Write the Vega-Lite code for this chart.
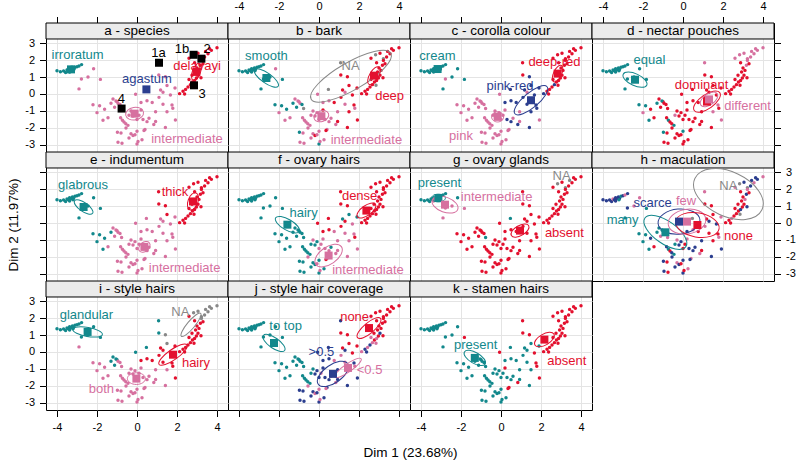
{
"$schema":"https://vega.github.io/schema/vega-lite/v6.json",
"padding":{"left":5,"top":0,"right":5,"bottom":5},
"background":"#ffffff",
"datasets":{
"strips":[{"panel":"a","title":"a - species"},{"panel":"b","title":"b - bark"},{"panel":"c","title":"c - corolla colour"},{"panel":"d","title":"d - nectar pouches"},{"panel":"e","title":"e - indumentum"},{"panel":"f","title":"f - ovary hairs"},{"panel":"g","title":"g - ovary glands"},{"panel":"h","title":"h - maculation"},{"panel":"i","title":"i - style hairs"},{"panel":"j","title":"j - style hair coverage"},{"panel":"k","title":"k - stamen hairs"}],
"cent":[
{"panel":"a","cat":"irroratum","cx":-3.3,"cy":1.45,"r":0.22,"ratio":"r70","angle":-20,"lx":-2.97,"ly":2.31},
{"panel":"a","cat":"intermediate","cx":-0.12,"cy":-1.16,"r":0.45,"ratio":"r70","angle":-10,"lx":2.5,"ly":-2.65},
{"panel":"a","cat":"delavayi","cx":2.97,"cy":1.3,"r":0.45,"ratio":"r45","angle":-70,"lx":3.0,"ly":1.66},
{"panel":"a","cat":"agastum","cx":0.47,"cy":0.27,"r":0,"ratio":"r70","angle":0,"lx":0.5,"ly":0.88},
{"panel":"a","cat":"1a","cx":1.1,"cy":1.84,"r":0,"ratio":"r70","angle":0,"lx":1.08,"ly":2.41},
{"panel":"a","cat":"1b","cx":2.83,"cy":2.31,"r":0,"ratio":"r70","angle":0,"lx":2.25,"ly":2.65},
{"panel":"a","cat":"2","cx":3.22,"cy":2.08,"r":0,"ratio":"r70","angle":0,"lx":3.5,"ly":2.65},
{"panel":"a","cat":"3","cx":2.85,"cy":0.51,"r":0,"ratio":"r70","angle":0,"lx":3.25,"ly":0.0},
{"panel":"a","cat":"4","cx":-0.77,"cy":-0.86,"r":0,"ratio":"r70","angle":0,"lx":-0.78,"ly":-0.3},
{"panel":"b","cat":"smooth","cx":-2.63,"cy":0.94,"r":0.72,"ratio":"r35","angle":35,"lx":-2.63,"ly":2.25},
{"panel":"b","cat":"NA","cx":1.6,"cy":1.05,"r":2.3,"ratio":"r30","angle":-30,"lx":1.58,"ly":1.63},
{"panel":"b","cat":"deep","cx":2.75,"cy":1.08,"r":0.5,"ratio":"r45","angle":-60,"lx":3.53,"ly":-0.14},
{"panel":"b","cat":"intermediate","cx":0.12,"cy":-1.31,"r":0.38,"ratio":"r70","angle":-20,"lx":2.37,"ly":-2.73},
{"panel":"c","cat":"cream","cx":-3.17,"cy":1.47,"r":0.2,"ratio":"r70","angle":0,"lx":-3.18,"ly":2.22},
{"panel":"c","cat":"deep-red","cx":2.83,"cy":1.2,"r":0.45,"ratio":"r45","angle":-65,"lx":2.67,"ly":1.86},
{"panel":"c","cat":"pink-red","cx":1.5,"cy":-0.37,"r":1.05,"ratio":"r35","angle":-40,"lx":0.45,"ly":0.45},
{"panel":"c","cat":"pink","cx":-0.17,"cy":-1.35,"r":0.3,"ratio":"r85","angle":0,"lx":-2.0,"ly":-2.45},
{"panel":"d","cat":"equal","cx":-2.4,"cy":0.84,"r":0.65,"ratio":"r45","angle":25,"lx":-1.68,"ly":2.02},
{"panel":"d","cat":"dominant","cx":1.2,"cy":-0.45,"r":0.78,"ratio":"r45","angle":-35,"lx":0.93,"ly":0.55},
{"panel":"d","cat":"different","cx":1.3,"cy":-0.32,"r":0.5,"ratio":"r55","angle":-35,"lx":3.23,"ly":-0.69},
{"panel":"e","cat":"glabrous","cx":-2.67,"cy":0.94,"r":0.55,"ratio":"r40","angle":35,"lx":-2.7,"ly":2.21},
{"panel":"e","cat":"thick","cx":2.8,"cy":1.27,"r":0.45,"ratio":"r55","angle":-70,"lx":1.9,"ly":1.8},
{"panel":"e","cat":"intermediate","cx":0.37,"cy":-1.41,"r":0.32,"ratio":"r70","angle":-40,"lx":2.38,"ly":-2.65},
{"panel":"f","cat":"hairy","cx":-1.58,"cy":-0.1,"r":0.68,"ratio":"r40","angle":30,"lx":-0.77,"ly":0.59},
{"panel":"f","cat":"dense","cx":2.37,"cy":0.73,"r":0.55,"ratio":"r45","angle":-35,"lx":2.03,"ly":1.57},
{"panel":"f","cat":"intermediate","cx":0.48,"cy":-1.92,"r":0.78,"ratio":"r55","angle":-35,"lx":2.45,"ly":-2.75},
{"panel":"g","cat":"present","cx":-3.13,"cy":1.47,"r":0.35,"ratio":"r55","angle":0,"lx":-3.08,"ly":2.35},
{"panel":"g","cat":"intermediate","cx":-2.8,"cy":1.08,"r":0.68,"ratio":"r55","angle":20,"lx":-0.22,"ly":1.53},
{"panel":"g","cat":"NA","cx":3.2,"cy":2.45,"r":0,"ratio":"r55","angle":0,"lx":3.03,"ly":2.78},
{"panel":"g","cat":"absent","cx":0.95,"cy":-0.45,"r":0.5,"ratio":"r50","angle":-30,"lx":3.17,"ly":-0.59},
{"panel":"h","cat":"many","cx":-0.88,"cy":-0.55,"r":1.25,"ratio":"r45","angle":35,"lx":-3.02,"ly":0.16},
{"panel":"h","cat":"scarce","cx":-0.2,"cy":0.08,"r":1.05,"ratio":"r60","angle":-5,"lx":-1.52,"ly":1.18},
{"panel":"h","cat":"few","cx":0.2,"cy":0.08,"r":0.95,"ratio":"r65","angle":-10,"lx":0.15,"ly":1.27},
{"panel":"h","cat":"none","cx":0.72,"cy":-0.12,"r":1.1,"ratio":"r55","angle":10,"lx":2.77,"ly":-0.75},
{"panel":"h","cat":"NA","cx":2.27,"cy":1.7,"r":1.85,"ratio":"r60","angle":25,"lx":2.27,"ly":2.2},
{"panel":"i","cat":"glandular","cx":-2.47,"cy":1.18,"r":0.75,"ratio":"r30","angle":10,"lx":-2.53,"ly":2.2},
{"panel":"i","cat":"NA","cx":2.7,"cy":1.6,"r":0.75,"ratio":"r25","angle":-50,"lx":2.17,"ly":2.35},
{"panel":"i","cat":"hairy","cx":1.8,"cy":-0.16,"r":0.85,"ratio":"r30","angle":-35,"lx":2.95,"ly":-0.65},
{"panel":"i","cat":"both","cx":-0.03,"cy":-1.57,"r":0.45,"ratio":"r65","angle":0,"lx":-1.78,"ly":-2.18},
{"panel":"j","cat":"to top","cx":-2.25,"cy":0.53,"r":0.65,"ratio":"r40","angle":35,"lx":-1.67,"ly":1.51},
{"panel":"j","cat":"none","cx":2.5,"cy":1.41,"r":0.75,"ratio":"r35","angle":-40,"lx":1.78,"ly":2.06},
{"panel":"j","cat":">0.5","cx":0.7,"cy":-1.29,"r":0.9,"ratio":"r50","angle":-35,"lx":0.12,"ly":-0.02},
{"panel":"j","cat":"<0.5","cx":1.45,"cy":-0.94,"r":0.8,"ratio":"r25","angle":-35,"lx":2.53,"ly":-1.04},
{"panel":"k","cat":"present","cx":-1.31,"cy":-0.35,"r":0.6,"ratio":"r45","angle":30,"lx":-1.27,"ly":0.43},
{"panel":"k","cat":"absent","cx":2.17,"cy":0.73,"r":0.55,"ratio":"r50","angle":-30,"lx":3.29,"ly":-0.51}
],
"pts":[
{"x":-4.0,"y":1.37,"a":"irroratum","b":"smooth","c":"cream","d":"equal","e":"glabrous","f":"hairy","g":"present","h":"scarce","i":"glandular","j":"to top","k":"present"},
{"x":-3.83,"y":1.31,"a":"irroratum","b":"smooth","c":"cream","d":"equal","e":"glabrous","f":"hairy","g":"present","h":"scarce","i":"glandular","j":"to top","k":"present"},
{"x":-3.67,"y":1.35,"a":"irroratum","b":"smooth","c":"cream","d":"equal","e":"glabrous","f":"hairy","g":"present","h":"scarce","i":"glandular","j":"to top","k":"present"},
{"x":-3.57,"y":1.27,"a":"irroratum","b":"smooth","c":"cream","d":"equal","e":"glabrous","f":"hairy","g":"present","h":"scarce","i":"glandular","j":"to top","k":"present"},
{"x":-3.5,"y":1.41,"a":"irroratum","b":"smooth","c":"cream","d":"equal","e":"glabrous","f":"hairy","g":"present","h":"few","i":"glandular","j":"to top","k":"present"},
{"x":-3.43,"y":1.37,"a":"irroratum","b":"smooth","c":"cream","d":"equal","e":"glabrous","f":"hairy","g":"present","h":"scarce","i":"glandular","j":"to top","k":"present"},
{"x":-3.37,"y":1.49,"a":"irroratum","b":"smooth","c":"cream","d":"equal","e":"glabrous","f":"hairy","g":"present","h":"scarce","i":"glandular","j":"to top","k":"present"},
{"x":-3.3,"y":1.43,"a":"irroratum","b":"smooth","c":"cream","d":"equal","e":"glabrous","f":"hairy","g":"intermediate","h":"scarce","i":"glandular","j":"to top","k":"present"},
{"x":-3.23,"y":1.53,"a":"irroratum","b":"smooth","c":"cream","d":"equal","e":"glabrous","f":"hairy","g":"present","h":"scarce","i":"glandular","j":"to top","k":"present"},
{"x":-3.17,"y":1.45,"a":"irroratum","b":"smooth","c":"cream","d":"equal","e":"glabrous","f":"hairy","g":"intermediate","h":"scarce","i":"glandular","j":"to top","k":"present"},
{"x":-3.1,"y":1.57,"a":"irroratum","b":"smooth","c":"cream","d":"equal","e":"glabrous","f":"hairy","g":"present","h":"many","i":"glandular","j":"to top","k":"present"},
{"x":-3.0,"y":1.61,"a":"irroratum","b":"smooth","c":"cream","d":"equal","e":"glabrous","f":"hairy","g":"present","h":"scarce","i":"glandular","j":"to top","k":"present"},
{"x":-2.9,"y":1.65,"a":"irroratum","b":"smooth","c":"cream","d":"equal","e":"glabrous","f":"hairy","g":"present","h":"few","i":"glandular","j":"to top","k":"present"},
{"x":-2.77,"y":1.73,"a":"irroratum","b":"smooth","c":"cream","d":"equal","e":"glabrous","f":"hairy","g":"present","h":"scarce","i":"glandular","j":"to top","k":"present"},
{"x":-3.37,"y":1.29,"a":"irroratum","b":"smooth","c":"cream","d":"equal","e":"glabrous","f":"hairy","g":"intermediate","h":"scarce","i":"glandular","j":"to top","k":"present"},
{"x":-3.2,"y":1.37,"a":"irroratum","b":"smooth","c":"cream","d":"equal","e":"glabrous","f":"hairy","g":"intermediate","h":"many","i":"glandular","j":"to top","k":"present"},
{"x":-2.78,"y":0.88,"a":"intermediate","b":"smooth","c":"pink","d":"equal","e":"glabrous","f":"hairy","g":"intermediate","h":"scarce","i":"glandular","j":"to top","k":"present"},
{"x":-2.45,"y":1.0,"a":"intermediate","b":"smooth","c":"cream","d":"equal","e":"glabrous","f":"hairy","g":"intermediate","h":"few","i":"glandular","j":"to top","k":"present"},
{"x":-2.17,"y":1.49,"a":"intermediate","b":"intermediate","c":"cream","d":"equal","e":"glabrous","f":"hairy","g":"present","h":"few","i":"glandular","j":"to top","k":"present"},
{"x":-1.83,"y":0.86,"a":"intermediate","b":"smooth","c":"cream","d":"equal","e":"glabrous","f":"hairy","g":"intermediate","h":"many","i":"glandular","j":"to top","k":"absent"},
{"x":-2.9,"y":0.3,"a":"intermediate","b":"smooth","c":"cream","d":"equal","e":"glabrous","f":"hairy","g":"intermediate","h":"many","i":"both","j":"to top","k":"present"},
{"x":-2.2,"y":-0.63,"a":"intermediate","b":"smooth","c":"pink","d":"equal","e":"glabrous","f":"hairy","g":"absent","h":"many","i":"both","j":"to top","k":"present"},
{"x":-1.87,"y":-0.7,"a":"intermediate","b":"smooth","c":"pink","d":"equal","e":"glabrous","f":"hairy","g":"absent","h":"many","i":"both","j":"to top","k":"present"},
{"x":-1.62,"y":-0.9,"a":"intermediate","b":"smooth","c":"pink","d":"dominant","e":"glabrous","f":"hairy","g":"absent","h":"scarce","i":"both","j":"to top","k":"present"},
{"x":-2.0,"y":-1.1,"a":"intermediate","b":"intermediate","c":"pink","d":"different","e":"glabrous","f":"hairy","g":"absent","h":"many","i":"both","j":"to top","k":"present"},
{"x":-1.3,"y":-0.55,"a":"intermediate","b":"smooth","c":"pink","d":"equal","e":"glabrous","f":"hairy","g":"absent","h":"many","i":"glandular","j":"to top","k":"present"},
{"x":-1.12,"y":-0.78,"a":"intermediate","b":"smooth","c":"pink","d":"dominant","e":"intermediate","f":"hairy","g":"absent","h":"few","i":"glandular","j":"to top","k":"present"},
{"x":-1.7,"y":-1.55,"a":"intermediate","b":"intermediate","c":"pink","d":"equal","e":"glabrous","f":"hairy","g":"absent","h":"many","i":"both","j":"to top","k":"present"},
{"x":-1.45,"y":-1.4,"a":"intermediate","b":"intermediate","c":"pink","d":"dominant","e":"intermediate","f":"hairy","g":"absent","h":"none","i":"both","j":"to top","k":"present"},
{"x":-1.0,"y":-0.45,"a":"intermediate","b":"intermediate","c":"pink","d":"dominant","e":"intermediate","f":"hairy","g":"absent","h":"scarce","i":"glandular","j":"to top","k":"present"},
{"x":-1.2,"y":-0.3,"a":"intermediate","b":"intermediate","c":"pink","d":"dominant","e":"intermediate","f":"hairy","g":"absent","h":"many","i":"glandular","j":"to top","k":"present"},
{"x":-1.05,"y":-0.42,"a":"intermediate","b":"intermediate","c":"pink","d":"equal","e":"intermediate","f":"hairy","g":"absent","h":"many","i":"glandular","j":"to top","k":"present"},
{"x":-0.95,"y":-0.55,"a":"intermediate","b":"intermediate","c":"pink","d":"dominant","e":"intermediate","f":"hairy","g":"absent","h":"many","i":"both","j":"to top","k":"present"},
{"x":-0.85,"y":-0.62,"a":"intermediate","b":"smooth","c":"pink","d":"dominant","e":"intermediate","f":"hairy","g":"absent","h":"scarce","i":"both","j":"to top","k":"present"},
{"x":-0.77,"y":-0.86,"a":"4","b":"NA","c":"pink","d":"dominant","e":"intermediate","f":"hairy","g":"present","h":"few","i":"both","j":"to top","k":"present"},
{"x":-0.82,"y":-1.4,"a":"intermediate","b":"intermediate","c":"pink","d":"dominant","e":"intermediate","f":"hairy","g":"absent","h":"scarce","i":"both","j":"to top","k":"present"},
{"x":-0.73,"y":-1.55,"a":"intermediate","b":"intermediate","c":"pink","d":"equal","e":"intermediate","f":"hairy","g":"absent","h":"many","i":"both","j":"to top","k":"present"},
{"x":-0.65,"y":-1.65,"a":"intermediate","b":"intermediate","c":"pink","d":"dominant","e":"intermediate","f":"hairy","g":"absent","h":"none","i":"both","j":"to top","k":"present"},
{"x":-0.56,"y":-1.75,"a":"intermediate","b":"intermediate","c":"pink","d":"dominant","e":"intermediate","f":"hairy","g":"absent","h":"scarce","i":"both","j":"to top","k":"present"},
{"x":-0.45,"y":-1.85,"a":"intermediate","b":"intermediate","c":"pink","d":"equal","e":"intermediate","f":"hairy","g":"absent","h":"many","i":"both","j":"to top","k":"present"},
{"x":-0.98,"y":-2.25,"a":"intermediate","b":"smooth","c":"pink","d":"equal","e":"intermediate","f":"hairy","g":"absent","h":"scarce","i":"both","j":">0.5","k":"present"},
{"x":-0.8,"y":-2.3,"a":"intermediate","b":"intermediate","c":"pink","d":"dominant","e":"intermediate","f":"hairy","g":"absent","h":"none","i":"both","j":">0.5","k":"present"},
{"x":-0.55,"y":-2.0,"a":"intermediate","b":"intermediate","c":"pink","d":"dominant","e":"intermediate","f":"intermediate","g":"absent","h":"scarce","i":"both","j":"<0.5","k":"present"},
{"x":-0.3,"y":-2.35,"a":"intermediate","b":"intermediate","c":"pink","d":"dominant","e":"intermediate","f":"hairy","g":"absent","h":"few","i":"both","j":">0.5","k":"present"},
{"x":-0.2,"y":-2.45,"a":"intermediate","b":"deep","c":"pink","d":"dominant","e":"intermediate","f":"hairy","g":"absent","h":"scarce","i":"both","j":"<0.5","k":"present"},
{"x":-0.1,"y":-2.4,"a":"intermediate","b":"intermediate","c":"pink","d":"dominant","e":"intermediate","f":"intermediate","g":"absent","h":"none","i":"both","j":">0.5","k":"present"},
{"x":0.0,"y":-2.2,"a":"intermediate","b":"intermediate","c":"pink","d":"equal","e":"intermediate","f":"hairy","g":"absent","h":"scarce","i":"both","j":"<0.5","k":"present"},
{"x":0.0,"y":-2.95,"a":"intermediate","b":"smooth","c":"pink","d":"dominant","e":"intermediate","f":"hairy","g":"absent","h":"scarce","i":"both","j":">0.5","k":"present"},
{"x":0.05,"y":-2.8,"a":"intermediate","b":"intermediate","c":"pink","d":"dominant","e":"intermediate","f":"intermediate","g":"absent","h":"none","i":"both","j":"<0.5","k":"present"},
{"x":0.25,"y":-2.7,"a":"intermediate","b":"intermediate","c":"pink","d":"dominant","e":"intermediate","f":"hairy","g":"absent","h":"few","i":"both","j":">0.5","k":"present"},
{"x":-0.95,"y":-2.85,"a":"intermediate","b":"intermediate","c":"pink","d":"dominant","e":"intermediate","f":"hairy","g":"absent","h":"scarce","i":"both","j":">0.5","k":"present"},
{"x":-0.75,"y":-2.9,"a":"intermediate","b":"intermediate","c":"pink","d":"dominant","e":"intermediate","f":"hairy","g":"absent","h":"none","i":"both","j":">0.5","k":"present"},
{"x":0.4,"y":-2.1,"a":"intermediate","b":"intermediate","c":"pink","d":"dominant","e":"intermediate","f":"intermediate","g":"absent","h":"few","i":"both","j":">0.5","k":"absent"},
{"x":0.35,"y":-2.15,"a":"intermediate","b":"deep","c":"pink","d":"dominant","e":"intermediate","f":"dense","g":"absent","h":"scarce","i":"both","j":"<0.5","k":"absent"},
{"x":-0.4,"y":-2.6,"a":"intermediate","b":"intermediate","c":"pink","d":"dominant","e":"intermediate","f":"hairy","g":"absent","h":"scarce","i":"both","j":">0.5","k":"present"},
{"x":-0.3,"y":-1.0,"a":"intermediate","b":"intermediate","c":"pink","d":"dominant","e":"intermediate","f":"intermediate","g":"absent","h":"few","i":"both","j":"to top","k":"present"},
{"x":-0.1,"y":-1.1,"a":"intermediate","b":"intermediate","c":"pink","d":"dominant","e":"intermediate","f":"hairy","g":"absent","h":"scarce","i":"both","j":">0.5","k":"present"},
{"x":0.1,"y":-1.25,"a":"intermediate","b":"intermediate","c":"pink","d":"dominant","e":"intermediate","f":"intermediate","g":"absent","h":"none","i":"both","j":"<0.5","k":"present"},
{"x":-0.2,"y":-1.3,"a":"intermediate","b":"intermediate","c":"pink","d":"dominant","e":"intermediate","f":"hairy","g":"absent","h":"scarce","i":"both","j":">0.5","k":"present"},
{"x":0.2,"y":-0.95,"a":"intermediate","b":"deep","c":"pink","d":"dominant","e":"intermediate","f":"intermediate","g":"absent","h":"few","i":"both","j":">0.5","k":"absent"},
{"x":-0.4,"y":-1.25,"a":"intermediate","b":"intermediate","c":"pink","d":"different","e":"intermediate","f":"hairy","g":"absent","h":"many","i":"both","j":"to top","k":"present"},
{"x":0.0,"y":-1.5,"a":"intermediate","b":"intermediate","c":"pink","d":"dominant","e":"intermediate","f":"intermediate","g":"absent","h":"none","i":"both","j":">0.5","k":"present"},
{"x":0.3,"y":-1.5,"a":"intermediate","b":"intermediate","c":"pink-red","d":"dominant","e":"intermediate","f":"intermediate","g":"absent","h":"scarce","i":"both","j":">0.5","k":"present"},
{"x":0.47,"y":0.27,"a":"agastum","b":"NA","c":"pink-red","d":"dominant","e":"intermediate","f":"dense","g":"present","h":"NA","i":"glandular","j":">0.5","k":"present"},
{"x":1.18,"y":0.24,"a":"intermediate","b":"deep","c":"pink-red","d":"dominant","e":"intermediate","f":"hairy","g":"absent","h":"none","i":"hairy","j":"none","k":"present"},
{"x":0.5,"y":-0.4,"a":"intermediate","b":"intermediate","c":"pink-red","d":"dominant","e":"intermediate","f":"dense","g":"absent","h":"few","i":"hairy","j":">0.5","k":"present"},
{"x":0.76,"y":-0.5,"a":"intermediate","b":"deep","c":"pink-red","d":"dominant","e":"intermediate","f":"intermediate","g":"absent","h":"none","i":"hairy","j":"<0.5","k":"present"},
{"x":0.93,"y":-1.05,"a":"intermediate","b":"intermediate","c":"pink","d":"dominant","e":"intermediate","f":"intermediate","g":"absent","h":"scarce","i":"both","j":">0.5","k":"present"},
{"x":0.84,"y":-1.8,"a":"intermediate","b":"intermediate","c":"pink-red","d":"dominant","e":"intermediate","f":"intermediate","g":"absent","h":"few","i":"both","j":"<0.5","k":"absent"},
{"x":0.93,"y":-1.62,"a":"intermediate","b":"deep","c":"pink","d":"dominant","e":"intermediate","f":"intermediate","g":"absent","h":"none","i":"both","j":">0.5","k":"present"},
{"x":0.5,"y":-1.63,"a":"intermediate","b":"intermediate","c":"pink-red","d":"dominant","e":"intermediate","f":"intermediate","g":"absent","h":"scarce","i":"both","j":">0.5","k":"present"},
{"x":0.6,"y":-1.43,"a":"intermediate","b":"intermediate","c":"pink","d":"dominant","e":"intermediate","f":"hairy","g":"absent","h":"scarce","i":"both","j":"<0.5","k":"present"},
{"x":1.5,"y":-1.05,"a":"intermediate","b":"deep","c":"pink-red","d":"different","e":"intermediate","f":"intermediate","g":"absent","h":"none","i":"both","j":"<0.5","k":"present"},
{"x":1.42,"y":-1.98,"a":"intermediate","b":"deep","c":"pink-red","d":"dominant","e":"intermediate","f":"intermediate","g":"absent","h":"scarce","i":"both","j":">0.5","k":"present"},
{"x":1.1,"y":-0.2,"a":"intermediate","b":"deep","c":"pink-red","d":"dominant","e":"intermediate","f":"dense","g":"absent","h":"few","i":"hairy","j":"<0.5","k":"present"},
{"x":1.3,"y":-0.6,"a":"intermediate","b":"intermediate","c":"pink-red","d":"different","e":"intermediate","f":"intermediate","g":"absent","h":"none","i":"hairy","j":"<0.5","k":"present"},
{"x":0.2,"y":-0.5,"a":"intermediate","b":"intermediate","c":"pink-red","d":"dominant","e":"intermediate","f":"dense","g":"absent","h":"scarce","i":"hairy","j":">0.5","k":"present"},
{"x":-0.07,"y":-0.02,"a":"intermediate","b":"intermediate","c":"pink","d":"dominant","e":"intermediate","f":"dense","g":"absent","h":"few","i":"glandular","j":">0.5","k":"absent"},
{"x":1.08,"y":1.84,"a":"1a","b":"NA","c":"deep-red","d":"different","e":"thick","f":"dense","g":"absent","h":"few","i":"glandular","j":">0.5","k":"absent"},
{"x":1.09,"y":1.12,"a":"intermediate","b":"deep","c":"deep-red","d":"dominant","e":"thick","f":"dense","g":"absent","h":"none","i":"glandular","j":"none","k":"absent"},
{"x":1.42,"y":1.02,"a":"intermediate","b":"deep","c":"pink-red","d":"dominant","e":"thick","f":"dense","g":"absent","h":"none","i":"NA","j":"none","k":"absent"},
{"x":1.67,"y":-0.06,"a":"intermediate","b":"deep","c":"pink-red","d":"dominant","e":"intermediate","f":"intermediate","g":"absent","h":"scarce","i":"hairy","j":"none","k":"absent"},
{"x":1.75,"y":-0.65,"a":"intermediate","b":"deep","c":"pink-red","d":"different","e":"intermediate","f":"intermediate","g":"absent","h":"none","i":"hairy","j":">0.5","k":"absent"},
{"x":1.79,"y":-0.84,"a":"intermediate","b":"intermediate","c":"pink-red","d":"dominant","e":"intermediate","f":"dense","g":"absent","h":"few","i":"hairy","j":"<0.5","k":"absent"},
{"x":1.92,"y":-1.53,"a":"intermediate","b":"deep","c":"pink","d":"different","e":"intermediate","f":"intermediate","g":"absent","h":"scarce","i":"hairy","j":">0.5","k":"absent"},
{"x":1.5,"y":0.5,"a":"intermediate","b":"deep","c":"pink-red","d":"dominant","e":"thick","f":"hairy","g":"absent","h":"none","i":"NA","j":"none","k":"present"},
{"x":1.9,"y":0.35,"a":"intermediate","b":"deep","c":"pink-red","d":"dominant","e":"intermediate","f":"hairy","g":"absent","h":"few","i":"hairy","j":"none","k":"present"},
{"x":1.3,"y":0.1,"a":"intermediate","b":"intermediate","c":"pink","d":"dominant","e":"intermediate","f":"dense","g":"absent","h":"scarce","i":"hairy","j":">0.5","k":"present"},
{"x":2.85,"y":0.51,"a":"3","b":"NA","c":"deep-red","d":"dominant","e":"thick","f":"dense","g":"absent","h":"NA","i":"hairy","j":"<0.5","k":"absent"},
{"x":2.13,"y":0.02,"a":"delavayi","b":"deep","c":"pink-red","d":"dominant","e":"thick","f":"dense","g":"absent","h":"none","i":"hairy","j":"<0.5","k":"absent"},
{"x":2.3,"y":0.16,"a":"delavayi","b":"deep","c":"deep-red","d":"dominant","e":"thick","f":"dense","g":"absent","h":"none","i":"hairy","j":">0.5","k":"absent"},
{"x":2.43,"y":0.27,"a":"delavayi","b":"deep","c":"deep-red","d":"dominant","e":"thick","f":"dense","g":"absent","h":"few","i":"hairy","j":"<0.5","k":"absent"},
{"x":2.55,"y":0.41,"a":"delavayi","b":"deep","c":"deep-red","d":"dominant","e":"thick","f":"dense","g":"absent","h":"none","i":"hairy","j":">0.5","k":"absent"},
{"x":2.67,"y":0.55,"a":"delavayi","b":"deep","c":"pink-red","d":"dominant","e":"thick","f":"dense","g":"absent","h":"none","i":"hairy","j":"<0.5","k":"absent"},
{"x":2.77,"y":0.71,"a":"delavayi","b":"deep","c":"deep-red","d":"dominant","e":"thick","f":"dense","g":"absent","h":"none","i":"hairy","j":"none","k":"absent"},
{"x":2.88,"y":0.8,"a":"delavayi","b":"deep","c":"deep-red","d":"dominant","e":"thick","f":"dense","g":"absent","h":"scarce","i":"hairy","j":"<0.5","k":"absent"},
{"x":2.97,"y":0.94,"a":"delavayi","b":"deep","c":"deep-red","d":"dominant","e":"thick","f":"dense","g":"absent","h":"none","i":"hairy","j":"none","k":"absent"},
{"x":3.05,"y":1.1,"a":"delavayi","b":"deep","c":"deep-red","d":"dominant","e":"thick","f":"dense","g":"absent","h":"none","i":"hairy","j":">0.5","k":"absent"},
{"x":2.93,"y":1.29,"a":"delavayi","b":"deep","c":"deep-red","d":"dominant","e":"thick","f":"dense","g":"absent","h":"none","i":"hairy","j":"none","k":"absent"},
{"x":3.1,"y":1.39,"a":"delavayi","b":"deep","c":"deep-red","d":"dominant","e":"thick","f":"dense","g":"absent","h":"few","i":"hairy","j":"none","k":"absent"},
{"x":2.6,"y":0.85,"a":"delavayi","b":"deep","c":"deep-red","d":"dominant","e":"thick","f":"dense","g":"absent","h":"none","i":"hairy","j":"<0.5","k":"absent"},
{"x":2.38,"y":0.0,"a":"delavayi","b":"deep","c":"deep-red","d":"dominant","e":"thick","f":"dense","g":"absent","h":"none","i":"hairy","j":">0.5","k":"absent"},
{"x":3.2,"y":0.95,"a":"delavayi","b":"deep","c":"deep-red","d":"dominant","e":"thick","f":"dense","g":"absent","h":"scarce","i":"hairy","j":"none","k":"absent"},
{"x":2.75,"y":1.1,"a":"delavayi","b":"deep","c":"deep-red","d":"dominant","e":"thick","f":"dense","g":"absent","h":"none","i":"hairy","j":"none","k":"absent"},
{"x":2.83,"y":2.31,"a":"1b","b":"NA","c":"deep-red","d":"different","e":"thick","f":"dense","g":"NA","h":"NA","i":"NA","j":"none","k":"absent"},
{"x":3.22,"y":2.08,"a":"2","b":"NA","c":"deep-red","d":"different","e":"thick","f":"dense","g":"NA","h":"NA","i":"NA","j":"none","k":"absent"},
{"x":3.0,"y":1.53,"a":"delavayi","b":"deep","c":"deep-red","d":"dominant","e":"thick","f":"dense","g":"absent","h":"none","i":"hairy","j":"none","k":"absent"},
{"x":3.17,"y":1.69,"a":"delavayi","b":"deep","c":"deep-red","d":"different","e":"thick","f":"dense","g":"absent","h":"scarce","i":"hairy","j":"none","k":"absent"},
{"x":3.3,"y":1.78,"a":"delavayi","b":"deep","c":"deep-red","d":"dominant","e":"thick","f":"dense","g":"absent","h":"none","i":"hairy","j":"none","k":"absent"},
{"x":3.22,"y":1.98,"a":"delavayi","b":"deep","c":"deep-red","d":"different","e":"thick","f":"dense","g":"absent","h":"few","i":"NA","j":"none","k":"absent"},
{"x":3.38,"y":2.18,"a":"delavayi","b":"deep","c":"deep-red","d":"different","e":"thick","f":"dense","g":"absent","h":"scarce","i":"NA","j":"none","k":"absent"},
{"x":3.55,"y":2.37,"a":"delavayi","b":"deep","c":"deep-red","d":"different","e":"thick","f":"dense","g":"absent","h":"few","i":"NA","j":"none","k":"absent"},
{"x":3.72,"y":2.57,"a":"delavayi","b":"deep","c":"deep-red","d":"different","e":"thick","f":"dense","g":"absent","h":"scarce","i":"NA","j":"none","k":"absent"},
{"x":4.0,"y":2.72,"a":"delavayi","b":"deep","c":"deep-red","d":"different","e":"thick","f":"dense","g":"absent","h":"few","i":"NA","j":"none","k":"absent"},
{"x":3.43,"y":2.51,"a":"delavayi","b":"deep","c":"deep-red","d":"different","e":"thick","f":"dense","g":"NA","h":"scarce","i":"NA","j":"none","k":"absent"},
{"x":3.63,"y":2.67,"a":"delavayi","b":"deep","c":"deep-red","d":"different","e":"thick","f":"dense","g":"absent","h":"scarce","i":"NA","j":"none","k":"absent"},
{"x":2.88,"y":1.84,"a":"delavayi","b":"deep","c":"deep-red","d":"dominant","e":"thick","f":"dense","g":"absent","h":"none","i":"hairy","j":"none","k":"absent"},
{"x":3.05,"y":2.4,"a":"delavayi","b":"deep","c":"deep-red","d":"different","e":"thick","f":"dense","g":"absent","h":"scarce","i":"NA","j":"none","k":"absent"},
{"x":2.6,"y":2.1,"a":"delavayi","b":"deep","c":"deep-red","d":"different","e":"thick","f":"dense","g":"absent","h":"few","i":"hairy","j":"none","k":"absent"}
]
},
"columns":4,
"spacing":0,
"bounds":"flush",
"resolve":{"scale":{"color":"independent"}},
"concat":[
{"width":182,"height":129,"layer":[
{"data":{"name":"strips"},"transform":[{"filter":"datum.panel=='a'"}],"mark":{"type":"rect","fill":"#ebebeb","stroke":"#000000","strokeWidth":1},
"encoding":{"x":{"datum":-4.55,"type":"quantitative","scale":{"domain":[-4.55,4.55],"nice":false,"zero":false},"axis":{"orient":"top","values":[-4,-2,0,2,4],"tickCount":20,"labels":false,"title":null}},"x2":{"datum":4.55},
"y":{"datum":3.24,"type":"quantitative","scale":{"domain":[-3.42,4.183],"nice":false,"zero":false},"axis":{"orient":"left","values":[-3,-2,-1,0,1,2,3],"tickCount":20,"labelExpr":"'' + datum.value","labelOverlap":false,"title":null}},"y2":{"datum":4.183}}},
{"data":{"name":"strips"},"transform":[{"filter":"datum.panel=='a'"}],"mark":{"type":"text","fontSize":13.5,"color":"#000000"},"encoding":{"x":{"datum":0,"type":"quantitative"},"y":{"datum":3.71,"type":"quantitative"},"text":{"field":"title","type":"nominal"}}},
{"data":{"name":"pts"},"mark":{"type":"circle","size":12,"opacity":1},"encoding":{"x":{"field":"x","type":"quantitative"},"y":{"field":"y","type":"quantitative"},"color":{"field":"a","type":"nominal","scale":{"domain":["irroratum","intermediate","delavayi","agastum","1a","1b","2","3","4"],"range":["#12888c","#d6709f","#e3102e","#2b3e8f","#000000","#000000","#000000","#000000","#000000"]},"legend":null}}},
{"data":{"name":"cent"},"transform":[{"filter":"datum.panel=='a' && datum.r>0"}],"mark":{"type":"point","filled":false,"strokeWidth":1,"opacity":1},"encoding":{"x":{"field":"cx","type":"quantitative"},"y":{"field":"cy","type":"quantitative"},"shape":{"field":"ratio","type":"nominal","scale":{"domain":["r25","r30","r35","r40","r45","r50","r55","r60","r65","r70","r85"],"range":["M-1,0A1,0.25 0 1,0 1,0A1,0.25 0 1,0 -1,0Z","M-1,0A1,0.3 0 1,0 1,0A1,0.3 0 1,0 -1,0Z","M-1,0A1,0.35 0 1,0 1,0A1,0.35 0 1,0 -1,0Z","M-1,0A1,0.4 0 1,0 1,0A1,0.4 0 1,0 -1,0Z","M-1,0A1,0.45 0 1,0 1,0A1,0.45 0 1,0 -1,0Z","M-1,0A1,0.5 0 1,0 1,0A1,0.5 0 1,0 -1,0Z","M-1,0A1,0.55 0 1,0 1,0A1,0.55 0 1,0 -1,0Z","M-1,0A1,0.6 0 1,0 1,0A1,0.6 0 1,0 -1,0Z","M-1,0A1,0.65 0 1,0 1,0A1,0.65 0 1,0 -1,0Z","M-1,0A1,0.7 0 1,0 1,0A1,0.7 0 1,0 -1,0Z","M-1,0A1,0.85 0 1,0 1,0A1,0.85 0 1,0 -1,0Z"]},"legend":null},"size":{"field":"r","type":"quantitative","scale":{"type":"pow","exponent":2,"domain":[0,1],"range":[0,1600]},"legend":null},"angle":{"field":"angle","type":"quantitative","scale":null},"color":{"field":"cat","type":"nominal","legend":null}}},
{"data":{"name":"cent"},"transform":[{"filter":"datum.panel=='a' && datum.cat!='NA'"}],"mark":{"type":"square","size":64,"opacity":1},"encoding":{"x":{"field":"cx","type":"quantitative"},"y":{"field":"cy","type":"quantitative"},"color":{"field":"cat","type":"nominal","legend":null}}},
{"data":{"name":"cent"},"transform":[{"filter":"datum.panel=='a'"}],"mark":{"type":"text","fontSize":13},"encoding":{"x":{"field":"lx","type":"quantitative"},"y":{"field":"ly","type":"quantitative"},"text":{"field":"cat","type":"nominal"},"color":{"field":"cat","type":"nominal","legend":null}}}
]},
{"width":182,"height":129,"layer":[
{"data":{"name":"strips"},"transform":[{"filter":"datum.panel=='b'"}],"mark":{"type":"rect","fill":"#ebebeb","stroke":"#000000","strokeWidth":1},
"encoding":{"x":{"datum":-4.55,"type":"quantitative","scale":{"domain":[-4.55,4.55],"nice":false,"zero":false},"axis":{"orient":"top","values":[-4,-2,0,2,4],"tickCount":20,"labelExpr":"'' + datum.value","labelOverlap":false,"title":null}},"x2":{"datum":4.55},
"y":{"datum":3.24,"type":"quantitative","scale":{"domain":[-3.42,4.183],"nice":false,"zero":false},"axis":{"orient":"left","values":[-3,-2,-1,0,1,2,3],"tickCount":20,"labels":false,"ticks":false,"title":null}},"y2":{"datum":4.183}}},
{"data":{"name":"strips"},"transform":[{"filter":"datum.panel=='b'"}],"mark":{"type":"text","fontSize":13.5,"color":"#000000"},"encoding":{"x":{"datum":0,"type":"quantitative"},"y":{"datum":3.71,"type":"quantitative"},"text":{"field":"title","type":"nominal"}}},
{"data":{"name":"pts"},"mark":{"type":"circle","size":12,"opacity":1},"encoding":{"x":{"field":"x","type":"quantitative"},"y":{"field":"y","type":"quantitative"},"color":{"field":"b","type":"nominal","scale":{"domain":["smooth","intermediate","deep","NA"],"range":["#12888c","#d6709f","#e3102e","#888888"]},"legend":null}}},
{"data":{"name":"cent"},"transform":[{"filter":"datum.panel=='b' && datum.r>0"}],"mark":{"type":"point","filled":false,"strokeWidth":1,"opacity":1},"encoding":{"x":{"field":"cx","type":"quantitative"},"y":{"field":"cy","type":"quantitative"},"shape":{"field":"ratio","type":"nominal","legend":null},"size":{"field":"r","type":"quantitative","legend":null},"angle":{"field":"angle","type":"quantitative","scale":null},"color":{"field":"cat","type":"nominal","legend":null}}},
{"data":{"name":"cent"},"transform":[{"filter":"datum.panel=='b' && datum.cat!='NA'"}],"mark":{"type":"square","size":64,"opacity":1},"encoding":{"x":{"field":"cx","type":"quantitative"},"y":{"field":"cy","type":"quantitative"},"color":{"field":"cat","type":"nominal","legend":null}}},
{"data":{"name":"cent"},"transform":[{"filter":"datum.panel=='b'"}],"mark":{"type":"text","fontSize":13},"encoding":{"x":{"field":"lx","type":"quantitative"},"y":{"field":"ly","type":"quantitative"},"text":{"field":"cat","type":"nominal"},"color":{"field":"cat","type":"nominal","legend":null}}}
]},
{"width":182,"height":129,"layer":[
{"data":{"name":"strips"},"transform":[{"filter":"datum.panel=='c'"}],"mark":{"type":"rect","fill":"#ebebeb","stroke":"#000000","strokeWidth":1},
"encoding":{"x":{"datum":-4.55,"type":"quantitative","scale":{"domain":[-4.55,4.55],"nice":false,"zero":false},"axis":{"orient":"top","values":[-4,-2,0,2,4],"tickCount":20,"labels":false,"title":null}},"x2":{"datum":4.55},
"y":{"datum":3.24,"type":"quantitative","scale":{"domain":[-3.42,4.183],"nice":false,"zero":false},"axis":{"orient":"left","values":[-3,-2,-1,0,1,2,3],"tickCount":20,"labels":false,"ticks":false,"title":null}},"y2":{"datum":4.183}}},
{"data":{"name":"strips"},"transform":[{"filter":"datum.panel=='c'"}],"mark":{"type":"text","fontSize":13.5,"color":"#000000"},"encoding":{"x":{"datum":0,"type":"quantitative"},"y":{"datum":3.71,"type":"quantitative"},"text":{"field":"title","type":"nominal"}}},
{"data":{"name":"pts"},"mark":{"type":"circle","size":12,"opacity":1},"encoding":{"x":{"field":"x","type":"quantitative"},"y":{"field":"y","type":"quantitative"},"color":{"field":"c","type":"nominal","scale":{"domain":["cream","pink","deep-red","pink-red"],"range":["#12888c","#d6709f","#e3102e","#2b3e8f"]},"legend":null}}},
{"data":{"name":"cent"},"transform":[{"filter":"datum.panel=='c' && datum.r>0"}],"mark":{"type":"point","filled":false,"strokeWidth":1,"opacity":1},"encoding":{"x":{"field":"cx","type":"quantitative"},"y":{"field":"cy","type":"quantitative"},"shape":{"field":"ratio","type":"nominal","legend":null},"size":{"field":"r","type":"quantitative","legend":null},"angle":{"field":"angle","type":"quantitative","scale":null},"color":{"field":"cat","type":"nominal","legend":null}}},
{"data":{"name":"cent"},"transform":[{"filter":"datum.panel=='c' && datum.cat!='NA'"}],"mark":{"type":"square","size":64,"opacity":1},"encoding":{"x":{"field":"cx","type":"quantitative"},"y":{"field":"cy","type":"quantitative"},"color":{"field":"cat","type":"nominal","legend":null}}},
{"data":{"name":"cent"},"transform":[{"filter":"datum.panel=='c'"}],"mark":{"type":"text","fontSize":13},"encoding":{"x":{"field":"lx","type":"quantitative"},"y":{"field":"ly","type":"quantitative"},"text":{"field":"cat","type":"nominal"},"color":{"field":"cat","type":"nominal","legend":null}}}
]},
{"width":182,"height":129,"layer":[
{"data":{"name":"strips"},"transform":[{"filter":"datum.panel=='d'"}],"mark":{"type":"rect","fill":"#ebebeb","stroke":"#000000","strokeWidth":1},
"encoding":{"x":{"datum":-4.55,"type":"quantitative","scale":{"domain":[-4.55,4.55],"nice":false,"zero":false},"axis":{"orient":"top","values":[-4,-2,0,2,4],"tickCount":20,"labelExpr":"'' + datum.value","labelOverlap":false,"title":null}},"x2":{"datum":4.55},
"y":{"datum":3.24,"type":"quantitative","scale":{"domain":[-3.42,4.183],"nice":false,"zero":false},"axis":{"orient":"right","values":[-3,-2,-1,0,1,2,3],"tickCount":20,"labels":false,"title":null}},"y2":{"datum":4.183}}},
{"data":{"name":"strips"},"transform":[{"filter":"datum.panel=='d'"}],"mark":{"type":"text","fontSize":13.5,"color":"#000000"},"encoding":{"x":{"datum":0,"type":"quantitative"},"y":{"datum":3.71,"type":"quantitative"},"text":{"field":"title","type":"nominal"}}},
{"data":{"name":"pts"},"mark":{"type":"circle","size":12,"opacity":1},"encoding":{"x":{"field":"x","type":"quantitative"},"y":{"field":"y","type":"quantitative"},"color":{"field":"d","type":"nominal","scale":{"domain":["equal","different","dominant"],"range":["#12888c","#d6709f","#e3102e"]},"legend":null}}},
{"data":{"name":"cent"},"transform":[{"filter":"datum.panel=='d' && datum.r>0"}],"mark":{"type":"point","filled":false,"strokeWidth":1,"opacity":1},"encoding":{"x":{"field":"cx","type":"quantitative"},"y":{"field":"cy","type":"quantitative"},"shape":{"field":"ratio","type":"nominal","legend":null},"size":{"field":"r","type":"quantitative","legend":null},"angle":{"field":"angle","type":"quantitative","scale":null},"color":{"field":"cat","type":"nominal","legend":null}}},
{"data":{"name":"cent"},"transform":[{"filter":"datum.panel=='d' && datum.cat!='NA'"}],"mark":{"type":"square","size":64,"opacity":1},"encoding":{"x":{"field":"cx","type":"quantitative"},"y":{"field":"cy","type":"quantitative"},"color":{"field":"cat","type":"nominal","legend":null}}},
{"data":{"name":"cent"},"transform":[{"filter":"datum.panel=='d'"}],"mark":{"type":"text","fontSize":13},"encoding":{"x":{"field":"lx","type":"quantitative"},"y":{"field":"ly","type":"quantitative"},"text":{"field":"cat","type":"nominal"},"color":{"field":"cat","type":"nominal","legend":null}}}
]},
{"width":182,"height":129,"layer":[
{"data":{"name":"strips"},"transform":[{"filter":"datum.panel=='e'"}],"mark":{"type":"rect","fill":"#ebebeb","stroke":"#000000","strokeWidth":1},
"encoding":{"x":{"datum":-4.55,"type":"quantitative","scale":{"domain":[-4.55,4.55],"nice":false,"zero":false},"axis":{"orient":"bottom","values":[-4,-2,0,2,4],"tickCount":20,"labels":false,"ticks":false,"title":null}},"x2":{"datum":4.55},
"y":{"datum":3.24,"type":"quantitative","scale":{"domain":[-3.42,4.183],"nice":false,"zero":false},"axis":{"orient":"left","values":[-3,-2,-1,0,1,2,3],"tickCount":20,"labels":false,"title":"Dim 2 (11.97%)","titlePadding":19,"titleY":72.5}},"y2":{"datum":4.183}}},
{"data":{"name":"strips"},"transform":[{"filter":"datum.panel=='e'"}],"mark":{"type":"text","fontSize":13.5,"color":"#000000"},"encoding":{"x":{"datum":0,"type":"quantitative"},"y":{"datum":3.71,"type":"quantitative"},"text":{"field":"title","type":"nominal"}}},
{"data":{"name":"pts"},"mark":{"type":"circle","size":12,"opacity":1},"encoding":{"x":{"field":"x","type":"quantitative"},"y":{"field":"y","type":"quantitative"},"color":{"field":"e","type":"nominal","scale":{"domain":["glabrous","intermediate","thick"],"range":["#12888c","#d6709f","#e3102e"]},"legend":null}}},
{"data":{"name":"cent"},"transform":[{"filter":"datum.panel=='e' && datum.r>0"}],"mark":{"type":"point","filled":false,"strokeWidth":1,"opacity":1},"encoding":{"x":{"field":"cx","type":"quantitative"},"y":{"field":"cy","type":"quantitative"},"shape":{"field":"ratio","type":"nominal","legend":null},"size":{"field":"r","type":"quantitative","legend":null},"angle":{"field":"angle","type":"quantitative","scale":null},"color":{"field":"cat","type":"nominal","legend":null}}},
{"data":{"name":"cent"},"transform":[{"filter":"datum.panel=='e' && datum.cat!='NA'"}],"mark":{"type":"square","size":64,"opacity":1},"encoding":{"x":{"field":"cx","type":"quantitative"},"y":{"field":"cy","type":"quantitative"},"color":{"field":"cat","type":"nominal","legend":null}}},
{"data":{"name":"cent"},"transform":[{"filter":"datum.panel=='e'"}],"mark":{"type":"text","fontSize":13},"encoding":{"x":{"field":"lx","type":"quantitative"},"y":{"field":"ly","type":"quantitative"},"text":{"field":"cat","type":"nominal"},"color":{"field":"cat","type":"nominal","legend":null}}}
]},
{"width":182,"height":129,"layer":[
{"data":{"name":"strips"},"transform":[{"filter":"datum.panel=='f'"}],"mark":{"type":"rect","fill":"#ebebeb","stroke":"#000000","strokeWidth":1},
"encoding":{"x":{"datum":-4.55,"type":"quantitative","scale":{"domain":[-4.55,4.55],"nice":false,"zero":false},"axis":{"orient":"bottom","values":[-4,-2,0,2,4],"tickCount":20,"labels":false,"ticks":false,"title":null}},"x2":{"datum":4.55},
"y":{"datum":3.24,"type":"quantitative","scale":{"domain":[-3.42,4.183],"nice":false,"zero":false},"axis":{"orient":"left","values":[-3,-2,-1,0,1,2,3],"tickCount":20,"labels":false,"ticks":false,"title":null}},"y2":{"datum":4.183}}},
{"data":{"name":"strips"},"transform":[{"filter":"datum.panel=='f'"}],"mark":{"type":"text","fontSize":13.5,"color":"#000000"},"encoding":{"x":{"datum":0,"type":"quantitative"},"y":{"datum":3.71,"type":"quantitative"},"text":{"field":"title","type":"nominal"}}},
{"data":{"name":"pts"},"mark":{"type":"circle","size":12,"opacity":1},"encoding":{"x":{"field":"x","type":"quantitative"},"y":{"field":"y","type":"quantitative"},"color":{"field":"f","type":"nominal","scale":{"domain":["hairy","intermediate","dense"],"range":["#12888c","#d6709f","#e3102e"]},"legend":null}}},
{"data":{"name":"cent"},"transform":[{"filter":"datum.panel=='f' && datum.r>0"}],"mark":{"type":"point","filled":false,"strokeWidth":1,"opacity":1},"encoding":{"x":{"field":"cx","type":"quantitative"},"y":{"field":"cy","type":"quantitative"},"shape":{"field":"ratio","type":"nominal","legend":null},"size":{"field":"r","type":"quantitative","legend":null},"angle":{"field":"angle","type":"quantitative","scale":null},"color":{"field":"cat","type":"nominal","legend":null}}},
{"data":{"name":"cent"},"transform":[{"filter":"datum.panel=='f' && datum.cat!='NA'"}],"mark":{"type":"square","size":64,"opacity":1},"encoding":{"x":{"field":"cx","type":"quantitative"},"y":{"field":"cy","type":"quantitative"},"color":{"field":"cat","type":"nominal","legend":null}}},
{"data":{"name":"cent"},"transform":[{"filter":"datum.panel=='f'"}],"mark":{"type":"text","fontSize":13},"encoding":{"x":{"field":"lx","type":"quantitative"},"y":{"field":"ly","type":"quantitative"},"text":{"field":"cat","type":"nominal"},"color":{"field":"cat","type":"nominal","legend":null}}}
]},
{"width":182,"height":129,"layer":[
{"data":{"name":"strips"},"transform":[{"filter":"datum.panel=='g'"}],"mark":{"type":"rect","fill":"#ebebeb","stroke":"#000000","strokeWidth":1},
"encoding":{"x":{"datum":-4.55,"type":"quantitative","scale":{"domain":[-4.55,4.55],"nice":false,"zero":false},"axis":{"orient":"bottom","values":[-4,-2,0,2,4],"tickCount":20,"labels":false,"ticks":false,"title":null}},"x2":{"datum":4.55},
"y":{"datum":3.24,"type":"quantitative","scale":{"domain":[-3.42,4.183],"nice":false,"zero":false},"axis":{"orient":"left","values":[-3,-2,-1,0,1,2,3],"tickCount":20,"labels":false,"ticks":false,"title":null}},"y2":{"datum":4.183}}},
{"data":{"name":"strips"},"transform":[{"filter":"datum.panel=='g'"}],"mark":{"type":"text","fontSize":13.5,"color":"#000000"},"encoding":{"x":{"datum":0,"type":"quantitative"},"y":{"datum":3.71,"type":"quantitative"},"text":{"field":"title","type":"nominal"}}},
{"data":{"name":"pts"},"mark":{"type":"circle","size":12,"opacity":1},"encoding":{"x":{"field":"x","type":"quantitative"},"y":{"field":"y","type":"quantitative"},"color":{"field":"g","type":"nominal","scale":{"domain":["present","intermediate","absent","NA"],"range":["#12888c","#d6709f","#e3102e","#888888"]},"legend":null}}},
{"data":{"name":"cent"},"transform":[{"filter":"datum.panel=='g' && datum.r>0"}],"mark":{"type":"point","filled":false,"strokeWidth":1,"opacity":1},"encoding":{"x":{"field":"cx","type":"quantitative"},"y":{"field":"cy","type":"quantitative"},"shape":{"field":"ratio","type":"nominal","legend":null},"size":{"field":"r","type":"quantitative","legend":null},"angle":{"field":"angle","type":"quantitative","scale":null},"color":{"field":"cat","type":"nominal","legend":null}}},
{"data":{"name":"cent"},"transform":[{"filter":"datum.panel=='g' && datum.cat!='NA'"}],"mark":{"type":"square","size":64,"opacity":1},"encoding":{"x":{"field":"cx","type":"quantitative"},"y":{"field":"cy","type":"quantitative"},"color":{"field":"cat","type":"nominal","legend":null}}},
{"data":{"name":"cent"},"transform":[{"filter":"datum.panel=='g'"}],"mark":{"type":"text","fontSize":13},"encoding":{"x":{"field":"lx","type":"quantitative"},"y":{"field":"ly","type":"quantitative"},"text":{"field":"cat","type":"nominal"},"color":{"field":"cat","type":"nominal","legend":null}}}
]},
{"width":182,"height":129,"layer":[
{"data":{"name":"strips"},"transform":[{"filter":"datum.panel=='h'"}],"mark":{"type":"rect","fill":"#ebebeb","stroke":"#000000","strokeWidth":1},
"encoding":{"x":{"datum":-4.55,"type":"quantitative","scale":{"domain":[-4.55,4.55],"nice":false,"zero":false},"axis":{"orient":"bottom","values":[-4,-2,0,2,4],"tickCount":20,"labels":false,"ticks":false,"title":null}},"x2":{"datum":4.55},
"y":{"datum":3.24,"type":"quantitative","scale":{"domain":[-3.42,4.183],"nice":false,"zero":false},"axis":{"orient":"right","values":[-3,-2,-1,0,1,2,3],"tickCount":20,"labelExpr":"'' + datum.value","labelOverlap":false,"title":null}},"y2":{"datum":4.183}}},
{"data":{"name":"strips"},"transform":[{"filter":"datum.panel=='h'"}],"mark":{"type":"text","fontSize":13.5,"color":"#000000"},"encoding":{"x":{"datum":0,"type":"quantitative"},"y":{"datum":3.71,"type":"quantitative"},"text":{"field":"title","type":"nominal"}}},
{"data":{"name":"pts"},"mark":{"type":"circle","size":12,"opacity":1},"encoding":{"x":{"field":"x","type":"quantitative"},"y":{"field":"y","type":"quantitative"},"color":{"field":"h","type":"nominal","scale":{"domain":["many","few","none","scarce","NA"],"range":["#12888c","#d6709f","#e3102e","#2b3e8f","#888888"]},"legend":null}}},
{"data":{"name":"cent"},"transform":[{"filter":"datum.panel=='h' && datum.r>0"}],"mark":{"type":"point","filled":false,"strokeWidth":1,"opacity":1},"encoding":{"x":{"field":"cx","type":"quantitative"},"y":{"field":"cy","type":"quantitative"},"shape":{"field":"ratio","type":"nominal","legend":null},"size":{"field":"r","type":"quantitative","legend":null},"angle":{"field":"angle","type":"quantitative","scale":null},"color":{"field":"cat","type":"nominal","legend":null}}},
{"data":{"name":"cent"},"transform":[{"filter":"datum.panel=='h' && datum.cat!='NA'"}],"mark":{"type":"square","size":64,"opacity":1},"encoding":{"x":{"field":"cx","type":"quantitative"},"y":{"field":"cy","type":"quantitative"},"color":{"field":"cat","type":"nominal","legend":null}}},
{"data":{"name":"cent"},"transform":[{"filter":"datum.panel=='h'"}],"mark":{"type":"text","fontSize":13},"encoding":{"x":{"field":"lx","type":"quantitative"},"y":{"field":"ly","type":"quantitative"},"text":{"field":"cat","type":"nominal"},"color":{"field":"cat","type":"nominal","legend":null}}}
]},
{"width":182,"height":129,"layer":[
{"data":{"name":"strips"},"transform":[{"filter":"datum.panel=='i'"}],"mark":{"type":"rect","fill":"#ebebeb","stroke":"#000000","strokeWidth":1},
"encoding":{"x":{"datum":-4.55,"type":"quantitative","scale":{"domain":[-4.55,4.55],"nice":false,"zero":false},"axis":{"orient":"bottom","values":[-4,-2,0,2,4],"tickCount":20,"labelExpr":"'' + datum.value","labelOverlap":false,"title":null}},"x2":{"datum":4.55},
"y":{"datum":3.24,"type":"quantitative","scale":{"domain":[-3.42,4.183],"nice":false,"zero":false},"axis":{"orient":"left","values":[-3,-2,-1,0,1,2,3],"tickCount":20,"labelExpr":"'' + datum.value","labelOverlap":false,"title":null}},"y2":{"datum":4.183}}},
{"data":{"name":"strips"},"transform":[{"filter":"datum.panel=='i'"}],"mark":{"type":"text","fontSize":13.5,"color":"#000000"},"encoding":{"x":{"datum":0,"type":"quantitative"},"y":{"datum":3.71,"type":"quantitative"},"text":{"field":"title","type":"nominal"}}},
{"data":{"name":"pts"},"mark":{"type":"circle","size":12,"opacity":1},"encoding":{"x":{"field":"x","type":"quantitative"},"y":{"field":"y","type":"quantitative"},"color":{"field":"i","type":"nominal","scale":{"domain":["glandular","both","hairy","NA"],"range":["#12888c","#d6709f","#e3102e","#888888"]},"legend":null}}},
{"data":{"name":"cent"},"transform":[{"filter":"datum.panel=='i' && datum.r>0"}],"mark":{"type":"point","filled":false,"strokeWidth":1,"opacity":1},"encoding":{"x":{"field":"cx","type":"quantitative"},"y":{"field":"cy","type":"quantitative"},"shape":{"field":"ratio","type":"nominal","legend":null},"size":{"field":"r","type":"quantitative","legend":null},"angle":{"field":"angle","type":"quantitative","scale":null},"color":{"field":"cat","type":"nominal","legend":null}}},
{"data":{"name":"cent"},"transform":[{"filter":"datum.panel=='i' && datum.cat!='NA'"}],"mark":{"type":"square","size":64,"opacity":1},"encoding":{"x":{"field":"cx","type":"quantitative"},"y":{"field":"cy","type":"quantitative"},"color":{"field":"cat","type":"nominal","legend":null}}},
{"data":{"name":"cent"},"transform":[{"filter":"datum.panel=='i'"}],"mark":{"type":"text","fontSize":13},"encoding":{"x":{"field":"lx","type":"quantitative"},"y":{"field":"ly","type":"quantitative"},"text":{"field":"cat","type":"nominal"},"color":{"field":"cat","type":"nominal","legend":null}}}
]},
{"width":182,"height":129,"layer":[
{"data":{"name":"strips"},"transform":[{"filter":"datum.panel=='j'"}],"mark":{"type":"rect","fill":"#ebebeb","stroke":"#000000","strokeWidth":1},
"encoding":{"x":{"datum":-4.55,"type":"quantitative","scale":{"domain":[-4.55,4.55],"nice":false,"zero":false},"axis":{"orient":"bottom","values":[-4,-2,0,2,4],"tickCount":20,"labels":false,"title":"Dim 1 (23.68%)","titlePadding":28,"titleX":182}},"x2":{"datum":4.55},
"y":{"datum":3.24,"type":"quantitative","scale":{"domain":[-3.42,4.183],"nice":false,"zero":false},"axis":{"orient":"left","values":[-3,-2,-1,0,1,2,3],"tickCount":20,"labels":false,"ticks":false,"title":null}},"y2":{"datum":4.183}}},
{"data":{"name":"strips"},"transform":[{"filter":"datum.panel=='j'"}],"mark":{"type":"text","fontSize":13.5,"color":"#000000"},"encoding":{"x":{"datum":0,"type":"quantitative"},"y":{"datum":3.71,"type":"quantitative"},"text":{"field":"title","type":"nominal"}}},
{"data":{"name":"pts"},"mark":{"type":"circle","size":12,"opacity":1},"encoding":{"x":{"field":"x","type":"quantitative"},"y":{"field":"y","type":"quantitative"},"color":{"field":"j","type":"nominal","scale":{"domain":["to top","<0.5","none",">0.5"],"range":["#12888c","#d6709f","#e3102e","#2b3e8f"]},"legend":null}}},
{"data":{"name":"cent"},"transform":[{"filter":"datum.panel=='j' && datum.r>0"}],"mark":{"type":"point","filled":false,"strokeWidth":1,"opacity":1},"encoding":{"x":{"field":"cx","type":"quantitative"},"y":{"field":"cy","type":"quantitative"},"shape":{"field":"ratio","type":"nominal","legend":null},"size":{"field":"r","type":"quantitative","legend":null},"angle":{"field":"angle","type":"quantitative","scale":null},"color":{"field":"cat","type":"nominal","legend":null}}},
{"data":{"name":"cent"},"transform":[{"filter":"datum.panel=='j' && datum.cat!='NA'"}],"mark":{"type":"square","size":64,"opacity":1},"encoding":{"x":{"field":"cx","type":"quantitative"},"y":{"field":"cy","type":"quantitative"},"color":{"field":"cat","type":"nominal","legend":null}}},
{"data":{"name":"cent"},"transform":[{"filter":"datum.panel=='j'"}],"mark":{"type":"text","fontSize":13},"encoding":{"x":{"field":"lx","type":"quantitative"},"y":{"field":"ly","type":"quantitative"},"text":{"field":"cat","type":"nominal"},"color":{"field":"cat","type":"nominal","legend":null}}}
]},
{"width":182,"height":129,"layer":[
{"data":{"name":"strips"},"transform":[{"filter":"datum.panel=='k'"}],"mark":{"type":"rect","fill":"#ebebeb","stroke":"#000000","strokeWidth":1},
"encoding":{"x":{"datum":-4.55,"type":"quantitative","scale":{"domain":[-4.55,4.55],"nice":false,"zero":false},"axis":{"orient":"bottom","values":[-4,-2,0,2,4],"tickCount":20,"labelExpr":"'' + datum.value","labelOverlap":false,"title":null}},"x2":{"datum":4.55},
"y":{"datum":3.24,"type":"quantitative","scale":{"domain":[-3.42,4.183],"nice":false,"zero":false},"axis":{"orient":"left","values":[-3,-2,-1,0,1,2,3],"tickCount":20,"labels":false,"ticks":false,"title":null}},"y2":{"datum":4.183}}},
{"data":{"name":"strips"},"transform":[{"filter":"datum.panel=='k'"}],"mark":{"type":"text","fontSize":13.5,"color":"#000000"},"encoding":{"x":{"datum":0,"type":"quantitative"},"y":{"datum":3.71,"type":"quantitative"},"text":{"field":"title","type":"nominal"}}},
{"data":{"name":"pts"},"mark":{"type":"circle","size":12,"opacity":1},"encoding":{"x":{"field":"x","type":"quantitative"},"y":{"field":"y","type":"quantitative"},"color":{"field":"k","type":"nominal","scale":{"domain":["present","absent"],"range":["#12888c","#e3102e"]},"legend":null}}},
{"data":{"name":"cent"},"transform":[{"filter":"datum.panel=='k' && datum.r>0"}],"mark":{"type":"point","filled":false,"strokeWidth":1,"opacity":1},"encoding":{"x":{"field":"cx","type":"quantitative"},"y":{"field":"cy","type":"quantitative"},"shape":{"field":"ratio","type":"nominal","legend":null},"size":{"field":"r","type":"quantitative","legend":null},"angle":{"field":"angle","type":"quantitative","scale":null},"color":{"field":"cat","type":"nominal","legend":null}}},
{"data":{"name":"cent"},"transform":[{"filter":"datum.panel=='k' && datum.cat!='NA'"}],"mark":{"type":"square","size":64,"opacity":1},"encoding":{"x":{"field":"cx","type":"quantitative"},"y":{"field":"cy","type":"quantitative"},"color":{"field":"cat","type":"nominal","legend":null}}},
{"data":{"name":"cent"},"transform":[{"filter":"datum.panel=='k'"}],"mark":{"type":"text","fontSize":13},"encoding":{"x":{"field":"lx","type":"quantitative"},"y":{"field":"ly","type":"quantitative"},"text":{"field":"cat","type":"nominal"},"color":{"field":"cat","type":"nominal","legend":null}}}
]}
],
"config":{
"font":"Liberation Sans",
"view":{"stroke":"#000000","strokeWidth":1},
"axis":{"domain":false,"grid":true,"gridColor":"#e4e4e4","gridWidth":1,"tickColor":"#000000","tickSize":6.5,"tickWidth":1,"labelColor":"#000000","labelFontSize":11,"labelPadding":5,"labelOverlap":false,"titleFontSize":13.5,"titleFontWeight":"normal","titleColor":"#000000"}
}
}
